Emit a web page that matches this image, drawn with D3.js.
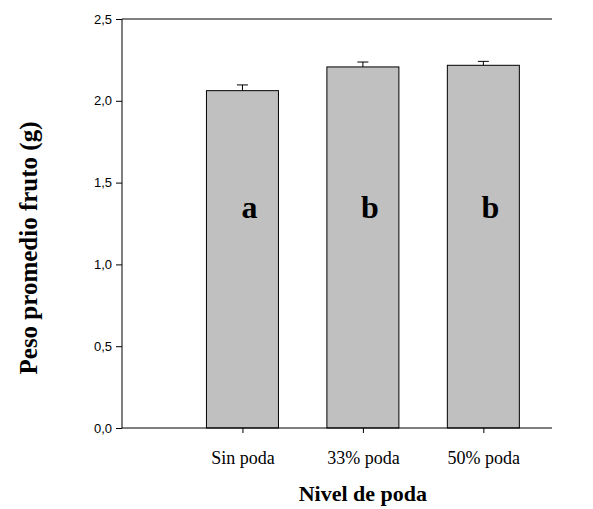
<!DOCTYPE html>
<html>
<head>
<meta charset="utf-8">
<script src="https://cdn.jsdelivr.net/npm/d3@7"></script>
<style>
  body { margin: 0; background: #fff; }
  svg { display: block; }
</style>
</head>
<body>
<svg width="593" height="509"></svg>
<script>
// data
var categories = ['Sin poda', '33% poda', '50% poda'];
var means = [2.062, 2.207, 2.217];
var errors = [0.035, 0.030, 0.024];
var letters = ['a', 'b', 'b'];
var yTicks = [0, 0.5, 1.0, 1.5, 2.0, 2.5];

var svg = d3.select('svg');
var plotLeft = 122, plotRight = 552, plotTop = 19, plotBottom = 428;

// categories sit at slot 1..3 of a linear x axis
var x = d3.scaleLinear().domain([0, 3.57]).range([plotLeft, plotRight]);
var y = d3.scaleLinear().domain([0, 2.5]).range([plotBottom, plotTop]);
var barW = 72;

var g = svg.append('g');

// bars
g.selectAll('rect.bar')
    .data(means)
    .enter().append('rect')
    .classed('bar', true)
    .attr('x', (d, i) => x(i + 1) - barW / 2)
    .attr('y', d => y(d))
    .attr('width', barW)
    .attr('height', d => y(0) - y(d))
    .style('fill', '#c0c0c0')
    .style('stroke', '#000')
    .style('stroke-width', 1);

// upper error bars
var eb = g.selectAll('g.err')
    .data(means)
    .enter().append('g')
    .classed('err', true);

eb.append('line')
    .attr('x1', (d, i) => x(i + 1))
    .attr('x2', (d, i) => x(i + 1))
    .attr('y1', d => y(d))
    .attr('y2', (d, i) => y(d + errors[i]))
    .style('stroke', '#000');

eb.append('line')
    .attr('x1', (d, i) => x(i + 1) - 5.5)
    .attr('x2', (d, i) => x(i + 1) + 5.5)
    .attr('y1', (d, i) => y(d + errors[i]))
    .attr('y2', (d, i) => y(d + errors[i]))
    .style('stroke', '#000');

// significance letters
g.selectAll('text.sig')
    .data(letters)
    .enter().append('text')
    .classed('sig', true)
    .attr('x', (d, i) => x(i + 1) + 7)
    .attr('y', 218)
    .attr('text-anchor', 'middle')
    .style('font-family', '"Liberation Serif", "Times New Roman", serif')
    .style('font-weight', 'bold')
    .style('font-size', '32px')
    .text(d => d);

// frame: top, left, bottom
g.append('path')
    .attr('d', 'M' + plotRight + ',' + plotTop + 'H' + plotLeft + 'V' + plotBottom + 'H' + plotRight)
    .style('fill', 'none')
    .style('stroke', '#000')
    .style('stroke-width', 1);

// y axis
var yAxis = g.append('g')
    .attr('transform', 'translate(' + plotLeft + ',0)')
    .call(d3.axisLeft(y).tickValues(yTicks).tickSize(6).tickPadding(4)
        .tickFormat(d => d3.format('.1f')(d).replace('.', ',')));
yAxis.select('.domain').remove();
yAxis.selectAll('text')
    .style('font-family', '"Liberation Sans", Arial, sans-serif')
    .style('font-size', '13px')
    .attr('fill', '#000');

// x axis
var xAxis = g.append('g')
    .attr('transform', 'translate(0,' + plotBottom + ')')
    .call(d3.axisBottom(x).tickValues([1, 2, 3]).tickSize(5).tickPadding(18)
        .tickFormat(d => categories[d - 1]));
xAxis.select('.domain').remove();
xAxis.selectAll('text')
    .style('font-family', '"Liberation Serif", "Times New Roman", serif')
    .style('font-size', '18px')
    .attr('fill', '#000');

// axis titles
svg.append('text')
    .attr('x', x(2))
    .attr('y', 501)
    .attr('text-anchor', 'middle')
    .style('font-family', '"Liberation Serif", "Times New Roman", serif')
    .style('font-weight', 'bold')
    .style('font-size', '22px')
    .text('Nivel de poda');

svg.append('text')
    .attr('transform', 'translate(37,' + 248 + ') rotate(-90)')
    .attr('text-anchor', 'middle')
    .style('font-family', '"Liberation Serif", "Times New Roman", serif')
    .style('font-weight', 'bold')
    .style('font-size', '25px')
    .text('Peso promedio fruto (g)');
</script>
</body>
</html>
